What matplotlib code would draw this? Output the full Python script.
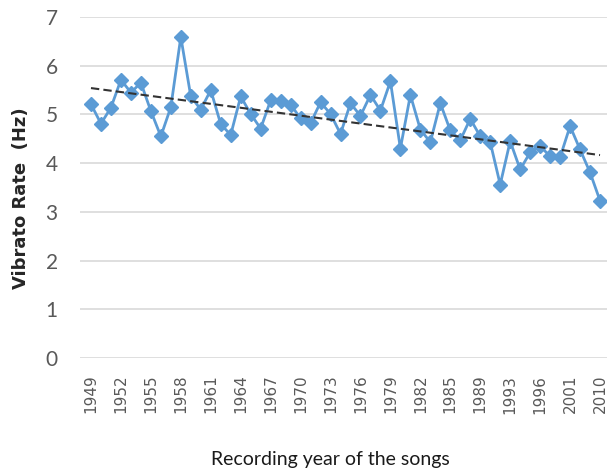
import numpy as np
import matplotlib.pyplot as plt

# years shown on the axis (every third category)
tick_years = ['1949', '1952', '1955', '1958', '1961', '1964', '1967', '1970', '1973',
              '1976', '1979', '1982', '1985', '1989', '1993', '1996', '2001', '2010']

# vibrato rate (Hz) per song
vibrato = [5.21, 4.81, 5.14, 5.71, 5.45, 5.65, 5.07, 4.55, 5.15, 6.59,
           5.37, 5.10, 5.50, 4.80, 4.58, 5.37, 5.01, 4.71, 5.29, 5.28,
           5.20, 4.92, 4.82, 5.25, 5.01, 4.60, 5.23, 4.97, 5.40, 5.08,
           5.68, 4.30, 5.40, 4.69, 4.43, 5.23, 4.67, 4.47, 4.91, 4.55,
           4.43, 3.56, 4.45, 3.87, 4.22, 4.35, 4.14, 4.12, 4.76, 4.28,
           3.81, 3.23]

x = np.arange(len(vibrato))
y = np.array(vibrato)

fig = plt.figure(figsize=(6.07, 4.76), dpi=100)
ax = fig.add_axes([0.1318, 0.2479, 0.8682, 0.7164])

ax.plot(x, y, color='#5b9bd5', lw=2, marker='D', markersize=7.5, zorder=3)

# linear trend
k, b = np.polyfit(x, y, 1)
ax.plot(x, k * x + b, color='#333333', ls=(0, (4, 2)), lw=1.5, zorder=4)

ax.set_ylim(0, 7)
ax.set_xlim(-1.1, 51.7)
ax.set_yticks(range(0, 8))
ax.set_xticks(np.arange(0, len(vibrato), 3))
ax.set_xticklabels(tick_years, rotation=90, fontsize=11, color='#595959')
ax.tick_params(axis='x', length=0, pad=12)
ax.tick_params(axis='y', length=0, pad=16, labelsize=15, labelcolor='#595959')
for lab in ax.get_yticklabels():
    lab.set_family(['Lato', 'DejaVu Sans'])

ax.grid(axis='y', color='#d9d9d9', lw=1.2)
ax.set_axisbelow(True)
for s in ax.spines.values():
    s.set_visible(False)

fig.text(0.035, 0.584, 'Vibrato Rate  (Hz)', rotation=90, fontsize=13,
         fontweight='bold', ha='center', va='center', color='#262626')
fig.text(0.545, 0.035, 'Recording year of the songs', fontsize=14,
         ha='center', va='center', color='#1a1a1a',
         family=['Lato', 'DejaVu Sans'])

fig.savefig('out.png', dpi=100)
